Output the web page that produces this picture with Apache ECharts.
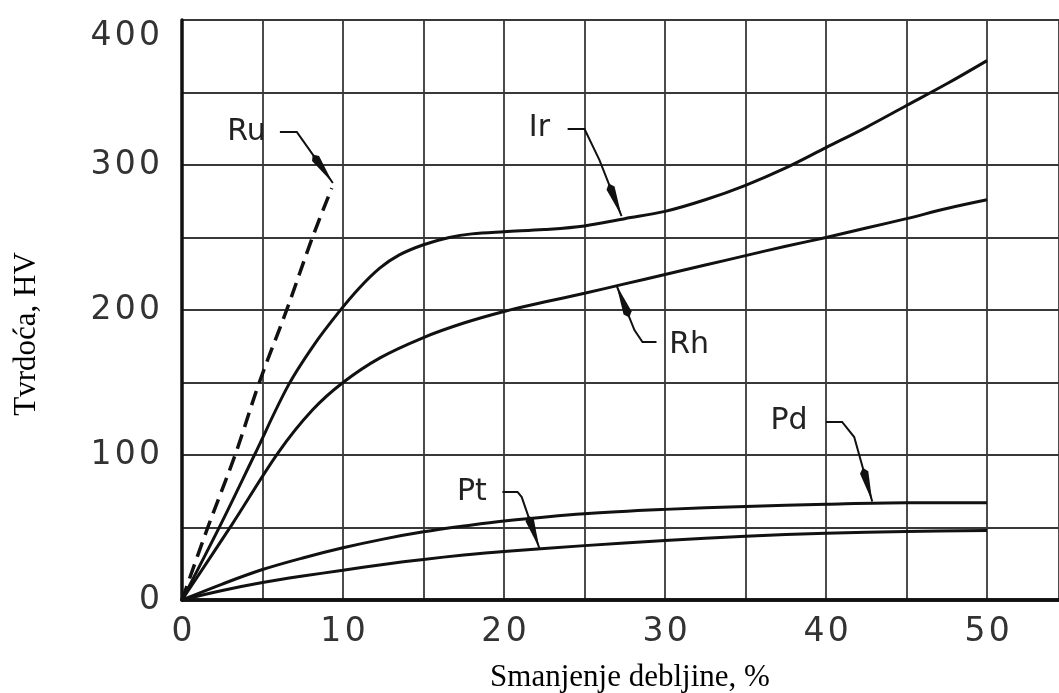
<!DOCTYPE html>
<html>
<head>
<meta charset="utf-8">
<script src="https://cdn.jsdelivr.net/npm/echarts@6/dist/echarts.min.js"></script>
<style>html,body{margin:0;padding:0;background:#fff;}#c{width:1059px;height:693px;}</style>
</head>
<body>
<div id="c"></div>
<script>
// ---- data ----
const xTitle = 'Smanjenje debljine, %';
const yTitle = 'Tvrdoća, HV';
const xTickLabels = [0, 10, 20, 30, 40, 50];
const yTickLabels = [0, 100, 200, 300, 400];

const ru = [[0,0],[1.6,50],[3.3,100],[4.8,150],[6.5,200],[8.1,250],[9.3,284]];
const ir = [[0,0],[2.4,52],[4.5,100],[6.6,148],[8.2,176],[9.7,198],[11,215],[12.3,229],[13.5,238],[15,245],[16.6,250],[18,252.5],[20,254],[22.5,255.5],[25,258],[27.5,263],[30,268],[32.5,276],[35,286],[37.5,298],[40,312],[42.5,326],[45,341],[47.5,356],[50,372]];
const rh = [[0,0],[3.1,52],[6,102],[8.1,131],[10,150],[12.3,167],[15,181],[17.5,191],[20,199],[22.5,205.5],[25,211.5],[27.5,218],[30,224.5],[32.5,231],[35,237.5],[37.5,244],[40,250],[42.5,256.5],[45,263],[47.5,270],[50,276]];
const pd = [[0,0],[2.5,11],[5,21],[7.5,29],[10,36],[12.5,42],[15,47],[17.5,51],[20,54.5],[25,59.5],[30,62.5],[35,64.5],[40,66],[45,67],[50,67]];
const pt = [[0,0],[2.5,6.5],[5,12],[7.5,16.5],[10,20.5],[12.5,24.5],[15,28],[17.5,31],[20,33.5],[25,37.5],[30,41],[35,44],[40,46],[45,47.3],[50,48]];

// annotation labels (data coords) and leader paths ending at the curve
const annLabels = ['Ru','Ir','Rh','Pd','Pt'];
const annAnchors = [[4.0,322.8],[22.2,325.5],[31.5,175.9],[37.7,123.4],[18.0,74.5]];
const annLeaders = [
  [[6.08,322.8],[7.13,322.8],[7.5,317],[9.37,287.6]],
  [[23.95,324.8],[25.0,324.8],[25.93,303.4],[27.3,264.8]],
  [[29.47,177.9],[28.6,177.9],[28.1,186.2],[26.98,217.2]],
  [[40.0,122.8],[41.0,122.8],[41.75,112.4],[42.87,68]],
  [[19.9,74.5],[20.84,74.5],[21.1,71],[22.2,35.5]]
];

const tickFont = '"DejaVu Sans", sans-serif';
const spaced = s => String(s).split('').join('\u200A');
const chart = echarts.init(document.getElementById('c'), null, {renderer:'canvas'});

function lineSeries(name, data, dashed) {
  return {
    name, type:'line', data, smooth:0.35, showSymbol:false, symbol:'none',
    lineStyle:{color:'#111', width: dashed ? 3.5 : 3, type: dashed ? [15,8] : 'solid'},
    z:5, silent:true
  };
}

chart.setOption({
  animation:false,
  backgroundColor:'#fff',
  grid:{left:182, right:0, top:20, bottom:93, containLabel:false},
  xAxis:[{
    type:'value', min:0, max:54.47, interval:5,
    axisLine:{show:true, onZero:false, lineStyle:{color:'#111', width:3.5}},
    axisTick:{show:false},
    splitLine:{show:true, lineStyle:{color:'#383838', width:1.8}},
    axisLabel:{
      margin:16, color:'#333', fontFamily:tickFont, fontSize:33, showMaxLabel:false,
      formatter:v => xTickLabels.includes(v) ? spaced(v) : ''
    }
  },{
    type:'value', position:'top', min:0, max:54.47,
    axisLine:{show:true, lineStyle:{color:'#111', width:3.5}},
    axisTick:{show:false}, axisLabel:{show:false}, splitLine:{show:false}
  }],
  yAxis:{
    type:'value', min:0, max:400, interval:50,
    axisLine:{show:true, onZero:false, lineStyle:{color:'#111', width:3.5}},
    axisTick:{show:false},
    splitLine:{show:true, lineStyle:{color:'#383838', width:1.8}},
    axisLabel:{
      margin:22, color:'#333', fontFamily:tickFont, fontSize:33,
      verticalAlignMaxLabel:'top',
      formatter:v => yTickLabels.includes(v) ? spaced(v) : ''
    }
  },
  graphic:[
    {type:'text', x:630, y:678, style:{text:xTitle, font:'31px "Liberation Serif", serif', fill:'#000', align:'center', verticalAlign:'middle'}},
    {type:'text', x:27, y:334, rotation:Math.PI/2, style:{text:yTitle, font:'31px "Liberation Serif", serif', fill:'#000', align:'center', verticalAlign:'middle'}}
  ],
  series:[
    lineSeries('Ru', ru, true),
    lineSeries('Ir', ir, false),
    lineSeries('Rh', rh, false),
    lineSeries('Pd', pd, false),
    lineSeries('Pt', pt, false),
    {
      type:'custom', coordinateSystem:'cartesian2d', xAxisIndex:0, yAxisIndex:0,
      data: annAnchors, z:6, silent:true,
      renderItem:(params, api) => {
        const i = params.dataIndex;
        const lp = api.coord(annAnchors[i]);
        const pts = annLeaders[i].map(p => api.coord(p));
        const tip = pts[pts.length-1], prev = pts[pts.length-2];
        const dx = tip[0]-prev[0], dy = tip[1]-prev[1];
        const len = Math.sqrt(dx*dx+dy*dy);
        const ux = dx/len, uy = dy/len;
        const L = Math.min(30, len*0.7), w = 4.3;
        const bx = tip[0]-ux*L, by = tip[1]-uy*L;
        const nx = -uy, ny = ux;
        return {
          type:'group',
          children:[
            {type:'text', style:{text:annLabels[i], x:lp[0], y:lp[1], font:'30px "DejaVu Sans", sans-serif', fill:'#222', align:'center', verticalAlign:'middle'}},
            {type:'polyline', shape:{points:pts}, style:{stroke:'#111', lineWidth:2, fill:null}},
            {type:'polygon', shape:{points:[tip,[bx+nx*w,by+ny*w],[bx-ux*5,by-uy*5],[bx-nx*w,by-ny*w]]}, style:{fill:'#111'}}
          ]
        };
      }
    }
  ]
});
</script>
</body>
</html>
